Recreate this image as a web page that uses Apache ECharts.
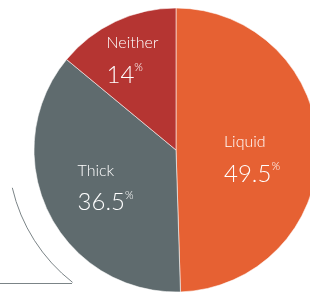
<!DOCTYPE html>
<html>
<head>
<meta charset="utf-8">
<script src="https://cdn.jsdelivr.net/npm/echarts@6/dist/echarts.min.js"></script>
<style>
  html, body { margin: 0; padding: 0; background: #fff; }
  #main { width: 310px; height: 293px; }
</style>
</head>
<body>
<div id="main"></div>
<script>
// slices, clockwise from 12 o'clock
var categories = ['Liquid', 'Thick', 'Neither'];
var shares = [49.5, 36.5, 14];

var sliceColors = ['#E66133', '#5F6B6E', '#B53532'];
// nudge each label block to where the original put it
var labelOffsets = { 'Liquid': [2, 11], 'Thick': [-4, 6], 'Neither': [-12, -22] };

var myChart = echarts.init(document.getElementById('main'));

var pieData = [];
for (var i = 0; i < categories.length; i++) {
  pieData.push({
    name: categories[i],
    value: shares[i],
    label: { offset: labelOffsets[categories[i]] }
  });
}

var option = {
  animation: false,
  color: sliceColors,
  graphic: [
    {
      type: 'arc',
      shape: { cx: 176, cy: 150, r: 168, startAngle: 128 * Math.PI / 180, endAngle: 167 * Math.PI / 180 },
      style: { stroke: '#7b8487', lineWidth: 1, fill: null }
    },
    {
      type: 'line',
      shape: { x1: 0, y1: 283.5, x2: 72, y2: 283.5 },
      style: { stroke: '#7b8487', lineWidth: 1 }
    }
  ],
  series: [{
    type: 'pie',
    center: [176, 150],
    radius: 142,
    startAngle: 90,
    clockwise: true,
    itemStyle: { borderColor: 'rgba(255,255,255,0.55)', borderWidth: 1 },
    label: {
      show: true,
      position: 'inside',
      color: '#fff',
      fontFamily: 'Lato',
      formatter: function (p) {
        return '{name|' + p.name + '}\n{val|' + p.value + '}{pct|%}';
      },
      rich: {
        name: { fontSize: 16, fontFamily: 'Lato', fontWeight: 300, color: '#fff', lineHeight: 28, align: 'left' },
        val: { fontSize: 24, fontFamily: 'Lato', fontWeight: 300, color: '#fff', lineHeight: 36, align: 'left' },
        pct: { fontSize: 11, fontFamily: 'Lato', fontWeight: 300, color: '#fff', verticalAlign: 'top', lineHeight: 36, align: 'left', padding: [5, 0, 0, 0] }
      }
    },
    labelLine: { show: false },
    emphasis: { disabled: true },
    data: pieData
  }]
};

myChart.setOption(option);
</script>
</body>
</html>
